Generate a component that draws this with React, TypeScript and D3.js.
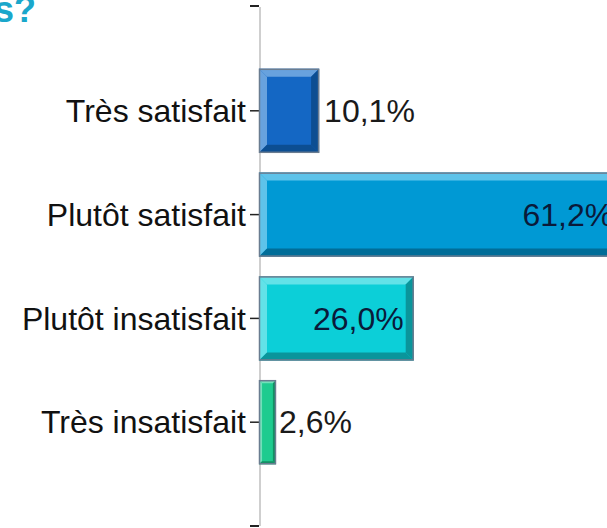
import React from "react";
import * as d3 from "d3";

const categories = ["Très satisfait", "Plutôt satisfait", "Plutôt insatisfait", "Très insatisfait"];
const values = [10.1, 61.2, 26.0, 2.6];
const valueLabels = ["10,1%", "61,2%", "26,0%", "2,6%"];
const mainColors = ["#1467c4", "#0099d4", "#0ccfd8", "#1ecb8f"];
const lightColors = ["#68a2de", "#5ec3ea", "#62e2e8", "#72e0ba"];
const darkColors = ["#0c4e92", "#006d98", "#0a959b", "#138f63"];
const insideLabel = [false, true, true, false];

const W = 607;
const H = 528;

export default function App() {
  const x = d3.scaleLinear().domain([0, 100]).range([259, 854]);
  const y = d3.scalePoint<string>().domain(categories).range([7, 526]).padding(1);
  const barH = 84;
  const font = "'Liberation Sans', Arial, sans-serif";

  return (
    <svg width={W} height={H} style={{ position: "absolute", left: 0, top: 0, display: "block" }}>
      <rect x={0} y={0} width={W} height={H} fill="#ffffff" />
      <text x={36} y={22} textAnchor="end" fontFamily={font} fontWeight="bold" fontSize={36} fill="#1aa7cb">
        s?
      </text>
      {/* axis */}
      <line x1={260} x2={260} y1={7} y2={526} stroke="#cfcfcf" strokeWidth={2} />
      <line x1={250} x2={259} y1={6} y2={6} stroke="#222" strokeWidth={2} />
      <line x1={250} x2={259} y1={526} y2={526} stroke="#222" strokeWidth={2} />
      {categories.map((c, i) => {
        const cy = y(c)!;
        return (
          <g key={c}>
            <line x1={250} x2={259} y1={cy} y2={cy} stroke="#222" strokeWidth={1.5} />
            <text x={246} y={cy} dy="0.35em" textAnchor="end" fontFamily={font} fontSize={32} fill="#111">
              {c}
            </text>
          </g>
        );
      })}
      {categories.map((c, i) => {
        const x0 = x(0);
        const x1 = x(values[i]) + (values[i] < 5 ? 1.5 : 0);
        const w = x1 - x0;
        const y0 = y(c)! - barH / 2;
        const y1 = y0 + barH;
        const b = Math.min(8, w * 0.18);
        const pts = (arr: number[][]) => arr.map((p) => p.join(",")).join(" ");
        return (
          <g key={"bar" + c}>
            <rect x={x0} y={y0} width={w} height={barH} fill={mainColors[i]} />
            <polygon points={pts([[x0, y0], [x1, y0], [x1 - b, y0 + b], [x0 + b, y0 + b]])} fill={lightColors[i]} />
            <polygon points={pts([[x0, y0], [x0 + b, y0 + b], [x0 + b, y1 - b], [x0, y1]])} fill={lightColors[i]} />
            <polygon points={pts([[x0, y1], [x0 + b, y1 - b], [x1 - b, y1 - b], [x1, y1]])} fill={darkColors[i]} />
            <polygon points={pts([[x1, y0], [x1, y1], [x1 - b, y1 - b], [x1 - b, y0 + b]])} fill={darkColors[i]} />
            <rect x={x0 + 0.5} y={y0 + 0.5} width={w - 1} height={barH - 1} fill="none" stroke="#6a7c90" strokeWidth={1.5} />
            <text
              x={insideLabel[i] ? x1 - 10 : x1 + (w > 30 ? 5 : 3)}
              y={y(c)!}
              dy="0.35em"
              textAnchor={insideLabel[i] ? "end" : "start"}
              fontFamily={font}
              fontSize={32}
              fill={insideLabel[i] ? "#0a1a3a" : "#1a1a1a"}
            >
              {valueLabels[i]}
            </text>
          </g>
        );
      })}
    </svg>
  );
}
